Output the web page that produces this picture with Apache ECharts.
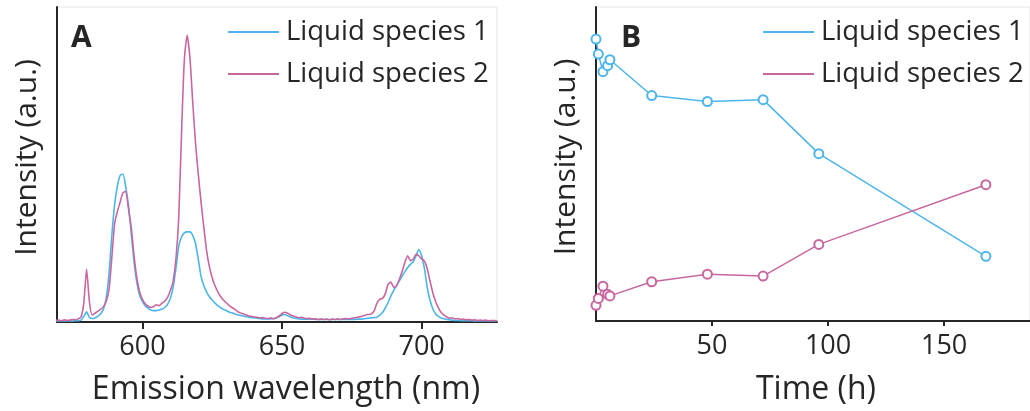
<!DOCTYPE html>
<html>
<head>
<meta charset="utf-8">
<script src="https://cdn.jsdelivr.net/npm/echarts@6/dist/echarts.min.js"></script>
<style>
  html, body { margin: 0; padding: 0; background: #fff; }
  #chart { width: 1030px; height: 411px; }
</style>
</head>
<body>
<div id="chart"></div>
<script>
// Panel A: emission spectra (1 nm steps)
const wavelength = [
  569, 570, 571, 572, 573, 574, 575, 576, 577, 578,
  579, 580, 581, 582, 583, 584, 585, 586, 587, 588,
  589, 590, 591, 592, 593, 594, 595, 596, 597, 598,
  599, 600, 601, 602, 603, 604, 605, 606, 607, 608,
  609, 610, 611, 612, 613, 614, 615, 616, 617, 618,
  619, 620, 621, 622, 623, 624, 625, 626, 627, 628,
  629, 630, 631, 632, 633, 634, 635, 636, 637, 638,
  639, 640, 641, 642, 643, 644, 645, 646, 647, 648,
  649, 650, 651, 652, 653, 654, 655, 656, 657, 658,
  659, 660, 661, 662, 663, 664, 665, 666, 667, 668,
  669, 670, 671, 672, 673, 674, 675, 676, 677, 678,
  679, 680, 681, 682, 683, 684, 685, 686, 687, 688,
  689, 690, 691, 692, 693, 694, 695, 696, 697, 698,
  699, 700, 701, 702, 703, 704, 705, 706, 707, 708,
  709, 710, 711, 712, 713, 714, 715, 716, 717, 718,
  719, 720, 721, 722, 723, 724, 725, 726, 727
];
const spectrum1 = [
  0.3, 0.3, 0.3, 0.3, 0.3, 0.3, 0.3, 0.4, 0.4, 0.6,
  1.8, 3.2, 1.5, 1.1, 1.3, 1.8, 2.6, 4.0, 7.5, 15,
  27, 37, 43, 46.5, 47, 43, 37, 28, 19, 12.5,
  8.5, 6.5, 5.2, 4.4, 3.8, 3.6, 3.6, 3.8, 4.1, 4.6,
  5.6, 7.5, 11, 17, 24, 27, 28.3, 28.6, 28.6, 27.5,
  25, 20, 14.5, 11.5, 9.5, 8.0, 7.0, 6.0, 5.2, 4.6,
  4.0, 3.6, 3.2, 2.9, 2.6, 2.3, 2.1, 1.9, 1.7, 1.5,
  1.4, 1.3, 1.2, 1.1, 1.0, 1.0, 1.0, 1.0, 1.1, 1.3,
  1.7, 2.2, 2.4, 2.0, 1.6, 1.3, 1.1, 1.0, 0.9, 0.9,
  0.9, 0.9, 0.9, 0.8, 0.8, 0.8, 0.8, 0.8, 0.8, 0.8,
  0.8, 0.8, 0.8, 0.8, 0.8, 0.8, 0.8, 0.8, 0.9, 0.9,
  1.0, 1.1, 1.2, 1.3, 1.4, 1.5, 2.2, 3.0, 4.5, 6.2,
  8.3, 10, 11.5, 13, 14.5, 16, 17.3, 18.3, 19.2, 21,
  23, 21, 17, 11, 7, 4.2, 2.6, 1.8, 1.3, 1.0,
  0.8, 0.7, 0.6, 0.5, 0.5, 0.4, 0.4, 0.4, 0.4, 0.4,
  0.3, 0.3, 0.3, 0.3, 0.3, 0.3, 0.3, 0.3, 0.3
];
const spectrum2 = [
  0.5, 0.6, 0.4, 0.7, 0.5, 0.6, 0.8, 0.7, 1.0, 1.6,
  6.0, 16.7, 6.5, 2.2, 2.8, 3.4, 4.0, 4.8, 6.5, 10,
  20, 31, 35, 38, 41, 41.5, 36, 30, 21, 14,
  9.5, 7.2, 5.8, 5.0, 4.6, 4.9, 5.5, 5.2, 6.0, 6.6,
  7.8, 10, 13, 20, 33, 60, 83, 91, 84, 70,
  57, 47, 38, 30, 22.5, 17.5, 14, 11.5, 9.6, 8.1,
  7.0, 6.1, 5.3, 4.6, 4.1, 3.4, 2.9, 2.6, 2.3, 2.0,
  1.8, 1.6, 1.5, 1.3, 1.4, 1.2, 1.1, 1.3, 1.0, 1.4,
  1.9, 2.7, 3.1, 2.8, 2.3, 1.9, 1.6, 1.4, 1.5, 1.2,
  1.1, 1.2, 0.9, 1.0, 0.8, 1.0, 0.8, 0.9, 0.7, 0.9,
  0.8, 1.0, 0.8, 1.0, 1.1, 1.0, 1.2, 1.3, 1.5, 1.7,
  1.9, 2.2, 2.4, 2.6, 3.5, 6.0, 7.2, 7.5, 9.0, 12.0,
  12.7, 11.0, 11.5, 13.5, 16.0, 19.0, 21.0, 19.5, 20.0, 21.4,
  21.0, 20.0, 19.3, 17.0, 13.0, 9.3, 6.5, 4.5, 3.0, 2.2,
  1.6, 1.2, 1.3, 1.0, 1.1, 0.8, 0.9, 0.7, 0.8, 0.6,
  0.7, 0.5, 0.6, 0.5, 0.6, 0.4, 0.5, 0.5, 0.4
];

// Panel B: intensity over time
const timeHours = [0, 1, 3, 5, 6, 24, 48, 72, 96, 168];
const kinetics1 = [89.8, 85.0, 79.4, 81.3, 83.2, 71.8, 69.9, 70.5, 53.3, 20.6];
const kinetics2 = [5.0, 7.2, 11.1, 8.5, 8.0, 12.5, 14.9, 14.3, 24.4, 43.4];

const seriesNames = ['Liquid species 1', 'Liquid species 2'];
const wavelengthTicks = [600, 650, 700];
const timeTicks = [50, 100, 150];

const BLUE = '#4db5ea';
const PINK = '#c8679f';
const INK = '#262626';
const FONT = 'Open Sans';

const pairs = (xs, ys) => xs.map((x, i) => [x, ys[i]]);

const axisLineStyle = { lineStyle: { color: INK, width: 2 } };

const legendBase = {
  data: seriesNames, orient: 'vertical', top: 17, padding: 0,
  icon: 'rect', itemWidth: 51, itemHeight: 2, itemGap: 12,
  textStyle: { fontFamily: FONT, fontSize: 27.5, color: INK, lineHeight: 30, padding: [0, 0, 0, 2] },
  selectedMode: false
};

const yNameStyle = { fontFamily: FONT, fontSize: 30, color: INK, padding: [0, 0, 0, 14] };

const option = {
  animation: false,
  textStyle: { fontFamily: FONT, color: INK },
  title: [
    { text: 'A', left: 66, top: 18.5, textStyle: { fontFamily: FONT, fontSize: 30, fontWeight: 'bold', color: INK } },
    { text: 'B', left: 616, top: 18.5, textStyle: { fontFamily: FONT, fontSize: 30, fontWeight: 'bold', color: INK } }
  ],
  legend: [
    Object.assign({}, legendBase, { left: 228 }),
    Object.assign({}, legendBase, { left: 763 })
  ],
  grid: [
    { left: 57, top: 7, width: 440, height: 315.7, show: true, borderColor: '#e6e6e6', borderWidth: 1 },
    { left: 596, top: 7, width: 440, height: 314.7, show: true, borderColor: '#e6e6e6', borderWidth: 1 }
  ],
  xAxis: [
    {
      gridIndex: 0, type: 'value', min: 569.4, max: 727,
      name: 'Emission wavelength (nm)', nameLocation: 'middle', nameGap: 52,
      nameTextStyle: { fontFamily: FONT, fontSize: 32, color: INK, padding: [0, 0, 0, 18] },
      axisLine: axisLineStyle,
      axisTick: { show: true, length: 7, lineStyle: { color: INK, width: 2 }, customValues: wavelengthTicks },
      axisLabel: { fontFamily: FONT, fontSize: 27, color: INK, margin: 12, customValues: wavelengthTicks },
      splitLine: { show: false }
    },
    {
      gridIndex: 1, type: 'value', min: 0, max: 187,
      name: 'Time (h)', nameLocation: 'middle', nameGap: 53,
      nameTextStyle: { fontFamily: FONT, fontSize: 32, color: INK, padding: [0, 0, 0, 6] },
      axisLine: axisLineStyle,
      axisTick: { show: true, length: 5, lineStyle: { color: INK, width: 2 }, customValues: timeTicks },
      axisLabel: { fontFamily: FONT, fontSize: 27, color: INK, margin: 12, customValues: timeTicks },
      splitLine: { show: false }
    }
  ],
  yAxis: [
    {
      gridIndex: 0, type: 'value', min: 0, max: 100,
      name: 'Intensity (a.u.)', nameLocation: 'middle', nameGap: 15,
      nameTextStyle: yNameStyle,
      axisLine: { show: true, lineStyle: { color: INK, width: 2 } },
      axisTick: { show: false }, axisLabel: { show: false }, splitLine: { show: false }
    },
    {
      gridIndex: 1, type: 'value', min: 0, max: 100,
      name: 'Intensity (a.u.)', nameLocation: 'middle', nameGap: 15,
      nameTextStyle: yNameStyle,
      axisLine: { show: true, lineStyle: { color: INK, width: 2 } },
      axisTick: { show: false }, axisLabel: { show: false }, splitLine: { show: false }
    }
  ],
  series: [
    {
      name: seriesNames[0], type: 'line', xAxisIndex: 0, yAxisIndex: 0,
      data: pairs(wavelength, spectrum1), symbol: 'none', smooth: 0.2,
      lineStyle: { color: BLUE, width: 1.6 }, itemStyle: { color: BLUE }
    },
    {
      name: seriesNames[1], type: 'line', xAxisIndex: 0, yAxisIndex: 0,
      data: pairs(wavelength, spectrum2), symbol: 'none', smooth: 0.2,
      lineStyle: { color: PINK, width: 1.6 }, itemStyle: { color: PINK }
    },
    {
      name: seriesNames[0], type: 'line', xAxisIndex: 1, yAxisIndex: 1,
      data: pairs(timeHours, kinetics1), symbol: 'emptyCircle', symbolSize: 9,
      lineStyle: { color: BLUE, width: 1.5 }, itemStyle: { color: BLUE, borderWidth: 1.2 }
    },
    {
      name: seriesNames[1], type: 'line', xAxisIndex: 1, yAxisIndex: 1,
      data: pairs(timeHours, kinetics2), symbol: 'emptyCircle', symbolSize: 9,
      lineStyle: { color: PINK, width: 1.5 }, itemStyle: { color: PINK, borderWidth: 1.2 }
    }
  ]
};

const chart = echarts.init(document.getElementById('chart'));
chart.setOption(option);
</script>
</body>
</html>
